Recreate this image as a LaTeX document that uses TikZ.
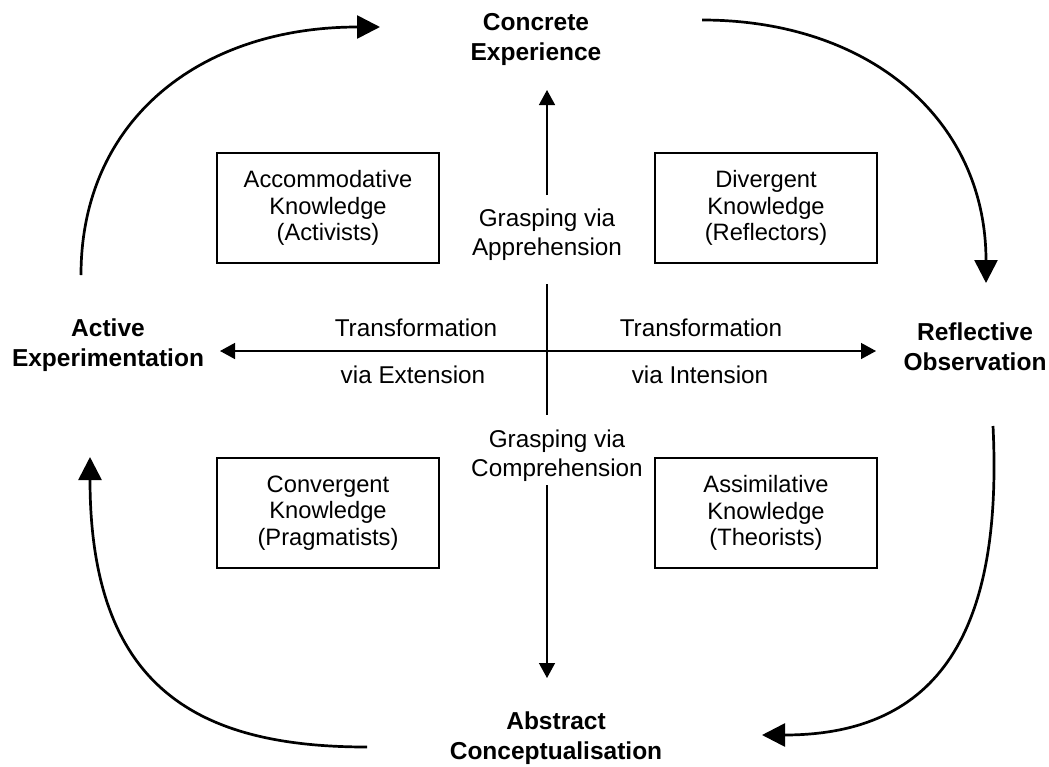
\documentclass[tikz,border=0pt]{standalone}
\usepackage{fontspec}
\setmainfont{Liberation Sans}
\usetikzlibrary{arrows.meta}
\tikzset{
  stage/.style={align=center,inner sep=0pt,font=\fontsize{24.5}{30}\selectfont\bfseries},
  lbl/.style={align=center,inner sep=0pt,font=\fontsize{24.3}{29}\selectfont},
  kbox/.style={draw,line width=1.3pt,minimum width=222pt,minimum height=110pt,align=center,inner sep=0pt,font=\fontsize{23.7}{26.5}\selectfont},
  axis/.style={line width=1.4pt,-{Triangle[length=15pt,width=16pt]}},
  cyc/.style={line width=2.7pt,-{Triangle[length=23pt,width=23pt]}}
}
\begin{document}
\begin{tikzpicture}[x=1pt,y=-1pt]
\useasboundingbox (0,0) rectangle (1049,766);
% stage labels
\node[stage] (ce) at (536,39) {Concrete\\Experience};
\node[stage] (ro) at (975,347) {Reflective\\Observation};
\node[stage] (ae) at (108,345) {Active\\Experimentation};
\node[stage] (ac) at (556,738) {Abstract\\Conceptualisation};
% knowledge boxes
\node[kbox] (acc) at (328,208) {Accommodative\\Knowledge\\(Activists)};
\node[kbox] (div) at (766,208) {Divergent\\Knowledge\\(Reflectors)};
\node[kbox] (con) at (328,513) {Convergent\\Knowledge\\(Pragmatists)};
\node[kbox] (ass) at (766,513) {Assimilative\\Knowledge\\(Theorists)};
% axis labels
\node[lbl] (gapp) at (547,235) {Grasping via\\Apprehension};
\node[lbl] (gcom) at (557,456) {Grasping via\\Comprehension};
\node[lbl] (tl1) at (416,328) {Transformation};
\node[lbl] (tl2) at (413,375) {via Extension};
\node[lbl] (tr1) at (701,328) {Transformation};
\node[lbl] (tr2) at (700,375) {via Intension};
% axis coordinates
\coordinate (vtop) at (547,90);
\coordinate (vtopb) at (547,195);
\coordinate (vmidt) at (547,284);
\coordinate (vmidb) at (547,415);
\coordinate (vbott) at (547,485);
\coordinate (vbot) at (547,678);
\coordinate (hl) at (220,351);
\coordinate (hr) at (876,351);
\draw[axis] (vtopb) -- (vtop);
\draw[line width=1.4pt] (vmidt) -- (vmidb);
\draw[axis] (vbott) -- (vbot);
\draw[line width=1.4pt,{Triangle[length=15pt,width=16pt]}-{Triangle[length=15pt,width=16pt]}] (hl) -- (hr);
% cycle arrows
\coordinate (tls) at (81,275);
\coordinate (tle) at (380,27);
\coordinate (trs) at (702,20);
\coordinate (tre) at (986,283);
\coordinate (brs) at (993,426);
\coordinate (bre) at (762,735);
\coordinate (bls) at (367,747);
\coordinate (ble) at (90,457);
\draw[cyc] (tls) .. controls (81,120) and (200,27) .. (tle);
\draw[cyc] (trs) .. controls (870,20) and (986,120) .. (tre);
\draw[cyc] (brs) .. controls (1003,630) and (940,735) .. (bre);
\draw[cyc] (bls) .. controls (200,747) and (90,690) .. (ble);
\end{tikzpicture}
\end{document}
